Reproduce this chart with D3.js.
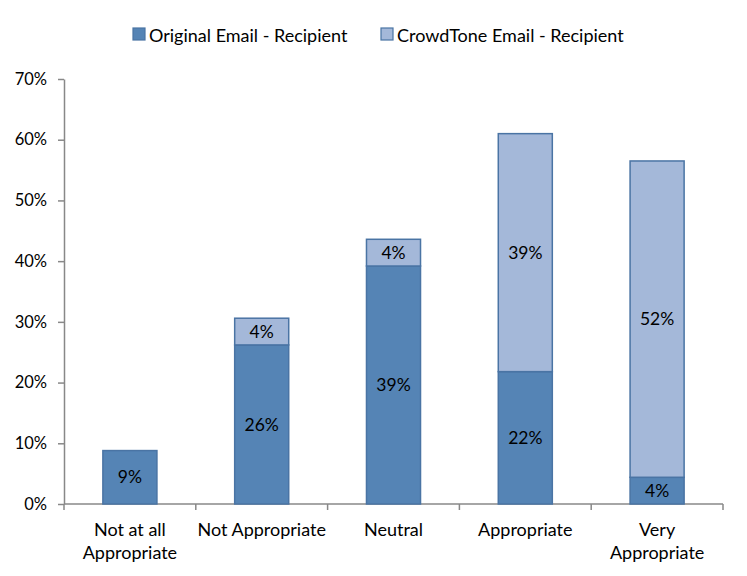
<!DOCTYPE html>
<html>
<head>
<meta charset="utf-8">
<script src="https://cdn.jsdelivr.net/npm/d3@7"></script>
<style>
  body { margin: 0; background: #fff; }
  text { font-family: Lato, "Open Sans", sans-serif; fill: #000; }
</style>
</head>
<body>
<div id="chart"></div>
<script>
// data (percent)
var categories = ["Not at all\nAppropriate", "Not Appropriate", "Neutral", "Appropriate", "Very\nAppropriate"];
var seriesNames = ["Original Email - Recipient", "CrowdTone Email - Recipient"];
var originalVals = [8.8, 26.2, 39.2, 21.8, 4.4];
var crowdVals = [0, 4.4, 4.4, 39.2, 52.1];
var yTicks = [0, 10, 20, 30, 40, 50, 60, 70];

var colors = ["#5584B5", "#A4B8D9"];
var strokeCol = "#4A74A4";

var width = 747, height = 576;
var margin = {top: 79, right: 24, bottom: 72, left: 64};
var w = width - margin.left - margin.right;
var h = height - margin.top - margin.bottom;

var svg = d3.select("#chart")
  .append("svg")
    .attr("width", width)
    .attr("height", height);

var g = svg.append("g")
    .attr("transform", "translate(" + margin.left + "," + margin.top + ")");

var xScale = d3.scaleBand()
    .domain(categories)
    .range([0, w])
    .paddingInner(0.59)
    .paddingOuter(0.295);

var yScale = d3.scaleLinear()
    .domain([0, 70])
    .range([h, 0]);

// build stacked table
var table = categories.map(function(c, i) {
  return {cat: c, s0: originalVals[i], s1: crowdVals[i]};
});
var stack = d3.stack().keys(["s0", "s1"])(table);

// y axis
var yAxis = g.append("g")
    .call(d3.axisLeft(yScale).tickValues(yTicks).tickSize(6).tickSizeOuter(0)
      .tickFormat(function(d) { return d + "%"; }));
yAxis.select(".domain").attr("stroke", "#888").attr("stroke-width", 1.5);
yAxis.selectAll(".tick line").attr("stroke", "#888").attr("stroke-width", 1.5);
yAxis.selectAll(".tick text")
    .attr("x", -17)
    .style("font-size", "16.5px")
    .style("font-family", "Lato, 'Open Sans', sans-serif");

// x axis (ticks between categories)
var xAxisG = g.append("g").attr("transform", "translate(0," + h + ")");
xAxisG.append("line")
    .attr("x1", 0).attr("x2", w)
    .attr("stroke", "#888").attr("stroke-width", 1.5);
var step = xScale.step();
xAxisG.selectAll(".xt")
  .data(d3.range(categories.length + 1))
  .enter().append("line")
    .attr("class", "xt")
    .attr("x1", function(d) { return d * step; })
    .attr("x2", function(d) { return d * step; })
    .attr("y1", 0).attr("y2", 6)
    .attr("stroke", "#888").attr("stroke-width", 1.5);

var catLabels = xAxisG.selectAll(".cl")
  .data(categories)
  .enter().append("text")
    .attr("class", "cl")
    .attr("text-anchor", "middle")
    .style("font-size", "18px")
    .attr("transform", function(d) { return "translate(" + (xScale(d) + xScale.bandwidth() / 2) + ",32)"; });
catLabels.selectAll("tspan")
  .data(function(d) { return d.split("\n"); })
  .enter().append("tspan")
    .attr("x", 0)
    .attr("dy", function(d, i) { return i === 0 ? 0 : 23; })
    .text(function(d) { return d; });

// bars
var layers = g.selectAll(".layer")
  .data(stack)
  .enter().append("g")
    .attr("class", "layer")
    .attr("fill", function(d, i) { return colors[i]; });

layers.selectAll("rect")
  .data(function(d) { return d.filter(function(p) { return p[1] - p[0] > 0; }); })
  .enter().append("rect")
    .attr("x", function(d) { return xScale(d.data.cat); })
    .attr("y", function(d) { return yScale(d[1]); })
    .attr("width", xScale.bandwidth())
    .attr("height", function(d) { return yScale(d[0]) - yScale(d[1]); })
    .attr("stroke", strokeCol)
    .attr("stroke-width", 1.5);

layers.selectAll(".lbl")
  .data(function(d) { return d.filter(function(p) { return p[1] - p[0] > 0; }); })
  .enter().append("text")
    .attr("class", "lbl")
    .attr("text-anchor", "middle")
    .attr("dy", "0.35em")
    .style("font-size", "17.5px")
    .style("fill", "#000")
    .attr("x", function(d) { return xScale(d.data.cat) + xScale.bandwidth() / 2; })
    .attr("y", function(d) { return (yScale(d[0]) + yScale(d[1])) / 2; })
    .text(function(d) { return Math.round(d[1] - d[0]) + "%"; });

// legend
var legendX = [133, 381];
var legend = svg.selectAll(".leg")
  .data(seriesNames)
  .enter().append("g")
    .attr("class", "leg")
    .attr("transform", function(d, i) { return "translate(" + legendX[i] + ",28)"; });
legend.append("rect")
    .attr("width", 12).attr("height", 12)
    .attr("fill", function(d, i) { return colors[i]; })
    .attr("stroke", strokeCol)
    .attr("stroke-width", 1.2);
legend.append("text")
    .attr("x", 16)
    .attr("y", 14)
    .style("font-size", "18px")
    .text(function(d) { return d; });
</script>
</body>
</html>
